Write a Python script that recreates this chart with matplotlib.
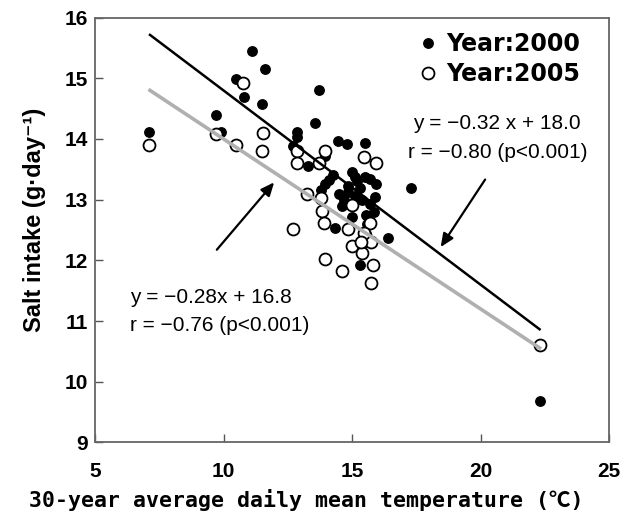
import matplotlib
matplotlib.use("Agg")
import matplotlib.pyplot as plt
import numpy as np

# ---- data ----
x2000 = [7.1, 9.7, 9.9, 10.5, 10.8, 11.1, 11.5, 11.6, 12.85, 12.85, 12.7, 13.7, 13.55,
         14.45, 14.8, 15.5, 13.3, 13.95, 15.0, 15.1, 15.5, 15.7, 15.95, 14.1, 13.95,
         14.85, 15.3, 13.8, 14.5, 14.85, 17.3, 15.1, 15.4, 14.6, 15.7, 15.0, 15.55,
         15.85, 14.35, 16.4, 15.3, 22.3, 15.2, 14.7, 15.9, 14.25, 15.6]
y2000 = [14.12, 14.39, 14.11, 14.99, 14.69, 15.45, 14.57, 15.16, 14.12, 14.03, 13.88, 14.81, 14.27,
         13.97, 13.92, 13.93, 13.56, 13.72, 13.46, 13.38, 13.38, 13.34, 13.26, 13.32, 13.26,
         13.23, 13.19, 13.16, 13.10, 13.12, 13.19, 13.06, 13.00, 12.90, 12.93, 12.72, 12.75,
         12.80, 12.53, 12.36, 11.92, 9.69, 13.30, 13.00, 13.05, 13.40, 12.60]
x2005 = [7.1, 9.7, 10.5, 10.75, 11.55, 11.5, 12.85, 12.85, 12.7, 13.7, 13.95, 15.45, 15.95,
         13.25, 13.8, 15.0, 13.85, 13.9, 14.85, 15.7, 15.5, 15.4, 15.75, 15.0, 15.4, 13.95,
         15.8, 14.6, 15.75, 22.3, 15.45, 15.35]
y2005 = [13.90, 14.08, 13.90, 14.92, 14.10, 13.80, 13.81, 13.60, 12.51, 13.61, 13.81, 13.71, 13.60,
         13.10, 13.02, 12.91, 12.81, 12.61, 12.51, 12.61, 12.42, 12.31, 12.31, 12.23, 12.12, 12.02,
         11.92, 11.83, 11.63, 10.60, 12.45, 12.30]

# regression lines (slope, intercept, x-range)
fit2000 = (-0.32, 18.0)
fit2005 = (-0.28, 16.8)
fit_x = [7.14, 22.3]

x_ticks = [5, 10, 15, 20, 25]
y_ticks = [9, 10, 11, 12, 13, 14, 15, 16]

fig = plt.figure(figsize=(6.22, 5.22), dpi=100)
ax = fig.add_axes([95/622, (522-442.4)/522, (609-95)/622, (442.4-17.6)/522])

ax.plot(x2000, y2000, 'o', color='black', markersize=6.8, zorder=3, label='Year:2000')
ax.plot(x2005, y2005, 'o', markerfacecolor='white', markeredgecolor='black',
        markersize=8.6, markeredgewidth=1.3, zorder=4, label='Year:2005')

fx = np.array(fit_x)
ax.plot(fx, fit2000[0]*fx + fit2000[1], color='black', lw=1.8, zorder=5)
ax.plot(fx, fit2005[0]*fx + fit2005[1], color='#b0b0b0', lw=2.6, zorder=5)

ax.set_xlim(5, 25)
ax.set_ylim(9, 16)
tick_font = dict(family='Liberation Sans', weight='bold', size=15)
ax.set_xticks(x_ticks)
ax.set_xticklabels([str(v) for v in x_ticks], fontdict=tick_font)
ax.set_yticks(y_ticks)
ax.set_yticklabels([str(v) for v in y_ticks], fontdict=tick_font)
ax.tick_params(direction='in', length=6, width=1, color='#555555')
ax.tick_params(axis='x', pad=14)
ax.tick_params(axis='y', pad=5)
for s in ax.spines.values():
    s.set_color('#666666')
    s.set_linewidth(1.3)

fig.text(306/622, 1 - 500/522, '30-year average daily mean temperature (℃)',
         family=['DejaVu Sans Mono', 'Noto Sans CJK JP'], fontweight='bold',
         fontsize=15.5, ha='center', va='center')
fig.text(35/622, 1 - 220/522, 'Salt intake (g·day⁻¹)',
         family=['Liberation Sans', 'DejaVu Sans'],
         fontweight='bold', fontsize=17, rotation=90, ha='center', va='center')

leg = ax.legend(loc='upper right', bbox_to_anchor=(0.985, 1.016), frameon=False,
                prop={'family': 'DejaVu Sans', 'weight': 'bold', 'size': 17},
                handletextpad=0.15, handlelength=1.2, labelspacing=0.25)

tfont = dict(family='Liberation Sans', fontsize=15)
ax.text(17.37, 14.25, 'y = −0.32 x + 18.0', va='center', ha='left', **tfont)
ax.text(17.18, 13.77, 'r = −0.80 (p<0.001)', va='center', ha='left', **tfont)
ax.text(6.36, 11.38, 'y = −0.28x + 16.8', va='center', ha='left', **tfont)
ax.text(6.36, 10.92, 'r = −0.76 (p<0.001)', va='center', ha='left', **tfont)

arrow = dict(arrowstyle='-|>,head_length=0.8,head_width=0.35', color='black', lw=1.6)
ax.annotate('', xy=(12.04, 13.32), xytext=(9.67, 12.14), arrowprops=arrow)
ax.annotate('', xy=(18.39, 12.18), xytext=(20.24, 13.37), arrowprops=arrow)

fig.savefig('out.png', dpi=100)
